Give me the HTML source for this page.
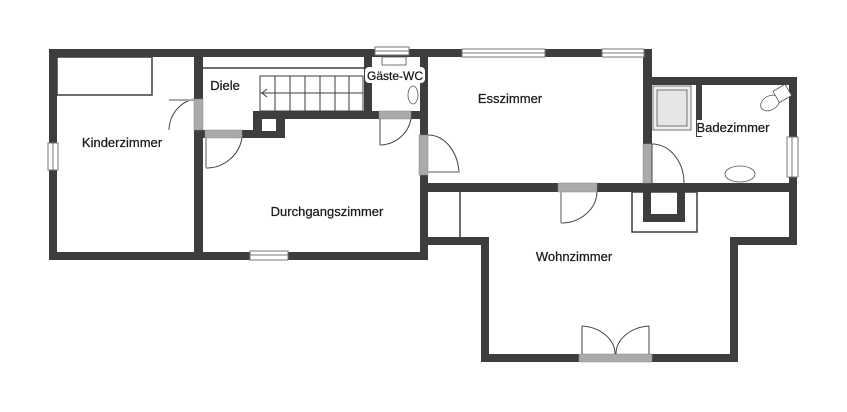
<!DOCTYPE html>
<html><head><meta charset="utf-8"><style>
html,body{margin:0;padding:0;background:#fff;}
svg{display:block}
text{font-family:"Liberation Sans",sans-serif;font-size:13px;fill:#1a1a1a;text-anchor:middle;stroke:#1a1a1a;stroke-width:0.25;}
</style></head><body>
<svg width="847" height="412" viewBox="0 0 847 412">
<g fill="#3d3d3d">
<rect x="49" y="49" width="603" height="8"/>
<rect x="49" y="49" width="8" height="210"/>
<rect x="49" y="252" width="379" height="8"/>
<rect x="194" y="49" width="9" height="211"/>
<rect x="420" y="49" width="8" height="211"/>
<rect x="643" y="49" width="9" height="143"/>
<rect x="643" y="77" width="154" height="8"/>
<rect x="789" y="77" width="8" height="168"/>
<rect x="420" y="183" width="377" height="9"/>
<rect x="428" y="237" width="60" height="8"/>
<rect x="481" y="237" width="8" height="125"/>
<rect x="481" y="354" width="257" height="8"/>
<rect x="730" y="237" width="8" height="125"/>
<rect x="730" y="237" width="67" height="8"/>
<rect x="253" y="111" width="167" height="8"/>
<rect x="253" y="111" width="32" height="27"/>
<rect x="203" y="130" width="82" height="8"/>
<rect x="364" y="57" width="8" height="54"/>
<rect x="643" y="192" width="42" height="30"/>
<rect x="696" y="85" width="6" height="52"/>
</g>
<rect x="262" y="119" width="14" height="12" fill="#fff"/>
<rect x="651" y="192" width="26" height="22" fill="#fff"/>
<rect x="632" y="192" width="65" height="40" fill="none" stroke="#3d3d3d" stroke-width="1.5"/>
<g fill="none" stroke="#3d3d3d" stroke-width="1.5">
<rect x="57" y="57" width="95" height="38"/>
<line x1="203" y1="68" x2="364" y2="68"/>
<line x1="460" y1="192" x2="460" y2="237"/>
</g>
<g fill="none" stroke="#3d3d3d" stroke-width="1">
<rect x="260" y="76" width="103" height="35"/>
<line x1="260" y1="93" x2="363" y2="93"/>
<line x1="275" y1="76" x2="275" y2="111"/><line x1="290" y1="76" x2="290" y2="111"/>
<line x1="305" y1="76" x2="305" y2="111"/><line x1="320" y1="76" x2="320" y2="111"/>
<line x1="335" y1="76" x2="335" y2="111"/><line x1="349" y1="76" x2="349" y2="111"/>
<polyline points="267,89 262,93 267,97"/>
</g>
<g fill="#fff" stroke="#777" stroke-width="1">
<rect x="462" y="49" width="83" height="8"/><line x1="462" y1="53" x2="545" y2="53"/>
<rect x="602" y="49" width="42" height="8"/><line x1="602" y1="53" x2="644" y2="53"/>
<rect x="375" y="47" width="34" height="8"/><line x1="375" y1="51" x2="409" y2="51"/>
<rect x="48" y="143" width="10" height="27"/><line x1="53" y1="143" x2="53" y2="170"/>
<rect x="250" y="251" width="38" height="9"/><line x1="250" y1="255" x2="288" y2="255"/>
<rect x="787" y="137" width="11" height="40"/><line x1="792" y1="137" x2="792" y2="177"/>
</g>
<g fill="#aaa" stroke="#888" stroke-width="0.5">
<rect x="194" y="99" width="9" height="31"/>
<rect x="205" y="130" width="37" height="8"/>
<rect x="379" y="111" width="32" height="8"/>
<rect x="419" y="135" width="9" height="40"/>
<rect x="643" y="144" width="9" height="39"/>
<rect x="558" y="183" width="39" height="9"/>
<rect x="579" y="354" width="73" height="8"/>
</g>
<g fill="none" stroke="#444" stroke-width="1">
<path d="M194,99 A32,32 0 0 0 169,130"/><line x1="169" y1="100" x2="194" y2="100" stroke="#aaa" stroke-width="2"/>
<path d="M242,138 A36,36 0 0 1 206,168"/><line x1="206" y1="138" x2="206" y2="168" stroke="#aaa" stroke-width="2"/>
<path d="M411,119 A32,32 0 0 1 380,145"/><line x1="380" y1="119" x2="380" y2="145"/>
<path d="M428,135 A31,40 0 0 1 459,173"/><line x1="428" y1="172" x2="459" y2="172" stroke="#aaa" stroke-width="2"/>
<path d="M652,144 A32,39 0 0 1 684,183"/><line x1="652" y1="144" x2="652" y2="183"/>
<path d="M597,192 A36,32 0 0 1 561,223"/><line x1="561" y1="192" x2="561" y2="223" stroke="#aaa" stroke-width="2"/>
<path d="M582,326 L582,354 M582,326 A36,28 0 0 1 615,354 M649,326 L649,354 M649,326 A36,28 0 0 0 616,354"/>
</g>
<g fill="#eee" stroke="#555" stroke-width="0.8">
<rect x="653" y="86" width="38" height="44"/><rect x="657" y="90" width="30" height="36" fill="#e6e6e6"/>
<ellipse cx="740" cy="174" rx="15" ry="8" fill="#fff"/>
<ellipse cx="770" cy="103" rx="10" ry="7" fill="#fff" transform="rotate(-30 770 103)"/>
<rect x="775" y="87" width="14" height="13" fill="#fff" transform="rotate(-30 782 93)"/>
<ellipse cx="413" cy="95" rx="5" ry="9" fill="#fff"/>
<rect x="382" y="57" width="24" height="8" fill="#fff"/>
</g>
<text x="122" y="147">Kinderzimmer</text>
<text x="225" y="90">Diele</text>
<text x="327" y="216">Durchgangszimmer</text>
<rect x="365" y="67" width="60" height="16" fill="#fff" rx="4"/>
<text x="395" y="80" style="font-size:12px" textLength="56" lengthAdjust="spacingAndGlyphs">Gäste-WC</text>
<text x="510" y="103">Esszimmer</text>
<rect x="697" y="120" width="72" height="16" fill="#fff"/>
<text x="733" y="132">Badezimmer</text>
<text x="574" y="261">Wohnzimmer</text>
</svg>
</body></html>
